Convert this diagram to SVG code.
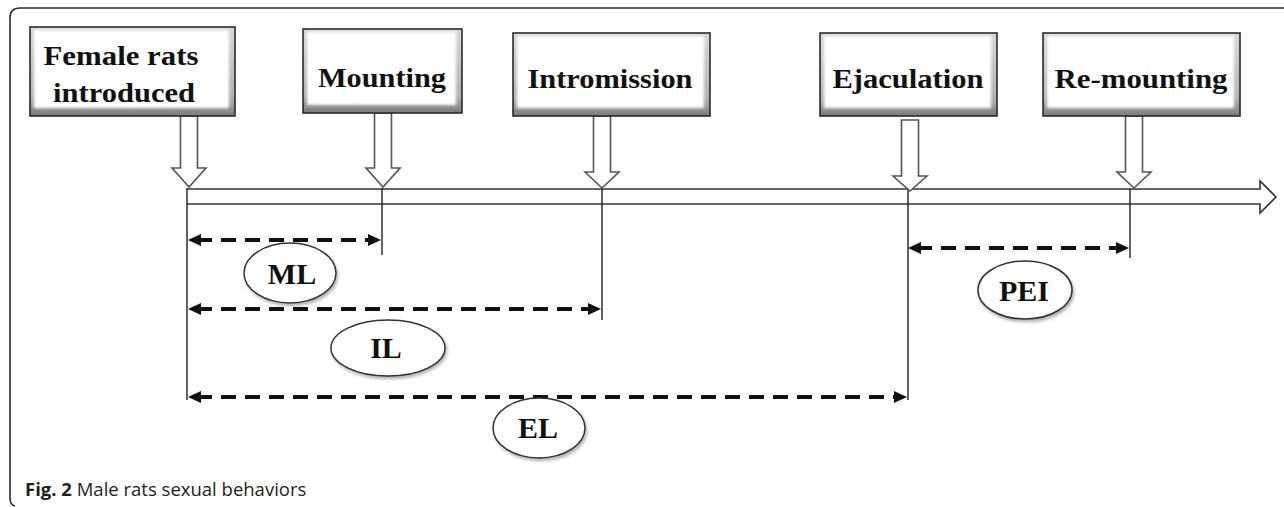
<svg xmlns="http://www.w3.org/2000/svg" width="1284" height="507" viewBox="0 0 1284 507">
<style>
.frame{fill:none;stroke:#2a2a2a;stroke-width:1.6}
.box{fill:url(#bev);stroke:#2b2b2b;stroke-width:1.6}
.boxin{fill:#fff;filter:url(#soft)}
.lbl{font-family:"Liberation Serif","Times New Roman",serif;font-weight:bold;font-size:27px;fill:#111;text-anchor:middle}
.dn{fill:#fff;stroke:#555;stroke-width:1.6;stroke-linejoin:miter}
.tl{fill:#fff;stroke:#333;stroke-width:1.6}
.vl{stroke:#222;stroke-width:1.4;fill:none}
.dash{stroke:#111;stroke-width:4;stroke-dasharray:15 9;fill:none}
.ell{fill:#fff;stroke:#333;stroke-width:1.5;filter:url(#sh)}
.elab{font-family:"Liberation Serif","Times New Roman",serif;font-weight:bold;font-size:30px;fill:#111;text-anchor:middle}
.cap{font-family:"Open Sans","Liberation Sans",sans-serif;font-size:18.5px;fill:#231f20}
</style>
<defs>
<linearGradient id="bev" x1="0" y1="0" x2="0" y2="1">
<stop offset="0" stop-color="#d8d8d8"/>
<stop offset="0.8" stop-color="#b0b0b0"/>
<stop offset="1" stop-color="#7a7a7a"/>
</linearGradient>
<filter id="soft" x="-5%" y="-5%" width="110%" height="110%"><feGaussianBlur stdDeviation="1.6"/></filter>
<filter id="sh" x="-20%" y="-20%" width="150%" height="160%">
<feDropShadow dx="1.5" dy="2.5" stdDeviation="1.8" flood-color="#000" flood-opacity="0.3"/>
</filter>
<marker id="ah" markerUnits="userSpaceOnUse" markerWidth="14" markerHeight="14" refX="4" refY="6" orient="auto-start-reverse">
<path d="M0,0 L13,6 L0,12 Z" fill="#111"/>
</marker>
</defs>
<rect width="1284" height="507" fill="#fff"/>
<path class="frame" d="M15,506 Q10,505 10,498 L10,18 Q10,8 20,8 L1284,8"/>

<g id="connectors">
<path class="tl" d="M187,189 L1260,189 L1260,181 L1276,197 L1260,213 L1260,204 L187,204"/>
<line class="vl" x1="187" y1="188" x2="187" y2="400"/>
<line class="vl" x1="382" y1="188" x2="382" y2="255"/>
<line class="vl" x1="602" y1="188" x2="602" y2="320"/>
<line class="vl" x1="908" y1="189" x2="908" y2="400"/>
<line class="vl" x1="1130" y1="189" x2="1130" y2="258"/>
<path class="dn" d="M180.5,116 L180.5,168 L172,168 L189,187 L206,168 L197.5,168 L197.5,116 Z"/>
<path class="dn" d="M374.5,113 L374.5,168 L366,168 L383,187 L400,168 L391.5,168 L391.5,113 Z"/>
<path class="dn" d="M593.5,116 L593.5,172 L585,172 L602,188 L619,172 L610.5,172 L610.5,116 Z"/>
<path class="dn" d="M901.5,120 L901.5,176 L893,176 L910,191 L927,176 L918.5,176 L918.5,120 Z"/>
<path class="dn" d="M1125.5,116 L1125.5,172 L1117,172 L1134,188 L1151,172 L1142.5,172 L1142.5,116 Z"/>
<line class="dash" x1="197" y1="240" x2="372" y2="240" marker-start="url(#ah)" marker-end="url(#ah)"/>
<line class="dash" x1="197" y1="309" x2="592" y2="309" marker-start="url(#ah)" marker-end="url(#ah)"/>
<line class="dash" x1="197" y1="397" x2="898" y2="397" marker-start="url(#ah)" marker-end="url(#ah)"/>
<line class="dash" x1="917" y1="248" x2="1120" y2="248" marker-start="url(#ah)" marker-end="url(#ah)"/>
</g>

<g id="node-female">
<rect class="box" x="30" y="27" width="205" height="89"/>
<rect class="boxin" x="34" y="30" width="195" height="78"/>
<text class="lbl" x="121" y="65" textLength="155" lengthAdjust="spacingAndGlyphs">Female rats</text>
<text class="lbl" x="124" y="102" textLength="142" lengthAdjust="spacingAndGlyphs">introduced</text>
</g>
<g id="node-mounting">
<rect class="box" x="303" y="29" width="159" height="84"/>
<rect class="boxin" x="307" y="32" width="149" height="73"/>
<text class="lbl" x="382" y="87" textLength="128" lengthAdjust="spacingAndGlyphs">Mounting</text>
</g>
<g id="node-intromission">
<rect class="box" x="513" y="33" width="197" height="83"/>
<rect class="boxin" x="517" y="36" width="187" height="72"/>
<text class="lbl" x="610" y="88" textLength="165" lengthAdjust="spacingAndGlyphs">Intromission</text>
</g>
<g id="node-ejaculation">
<rect class="box" x="820" y="33" width="177" height="83"/>
<rect class="boxin" x="824" y="36" width="167" height="72"/>
<text class="lbl" x="908" y="88" textLength="151" lengthAdjust="spacingAndGlyphs">Ejaculation</text>
</g>
<g id="node-remounting">
<rect class="box" x="1043" y="33" width="197" height="83"/>
<rect class="boxin" x="1047" y="36" width="187" height="72"/>
<text class="lbl" x="1141" y="88" textLength="173" lengthAdjust="spacingAndGlyphs">Re-mounting</text>
</g>

<g id="node-ML">
<ellipse class="ell" cx="290" cy="273" rx="46" ry="30"/>
<text class="elab" x="292" y="284">ML</text>
</g>
<g id="node-IL">
<ellipse class="ell" cx="388" cy="348" rx="57" ry="28"/>
<text class="elab" x="386" y="358">IL</text>
</g>
<g id="node-EL">
<ellipse class="ell" cx="539" cy="428" rx="46" ry="30"/>
<text class="elab" x="538" y="438">EL</text>
</g>
<g id="node-PEI">
<ellipse class="ell" cx="1025" cy="290" rx="47" ry="29"/>
<text class="elab" x="1024" y="301">PEI</text>
</g>

<text class="cap" x="25" y="496"><tspan font-weight="bold">Fig. 2</tspan> Male rats sexual behaviors</text>
</svg>
